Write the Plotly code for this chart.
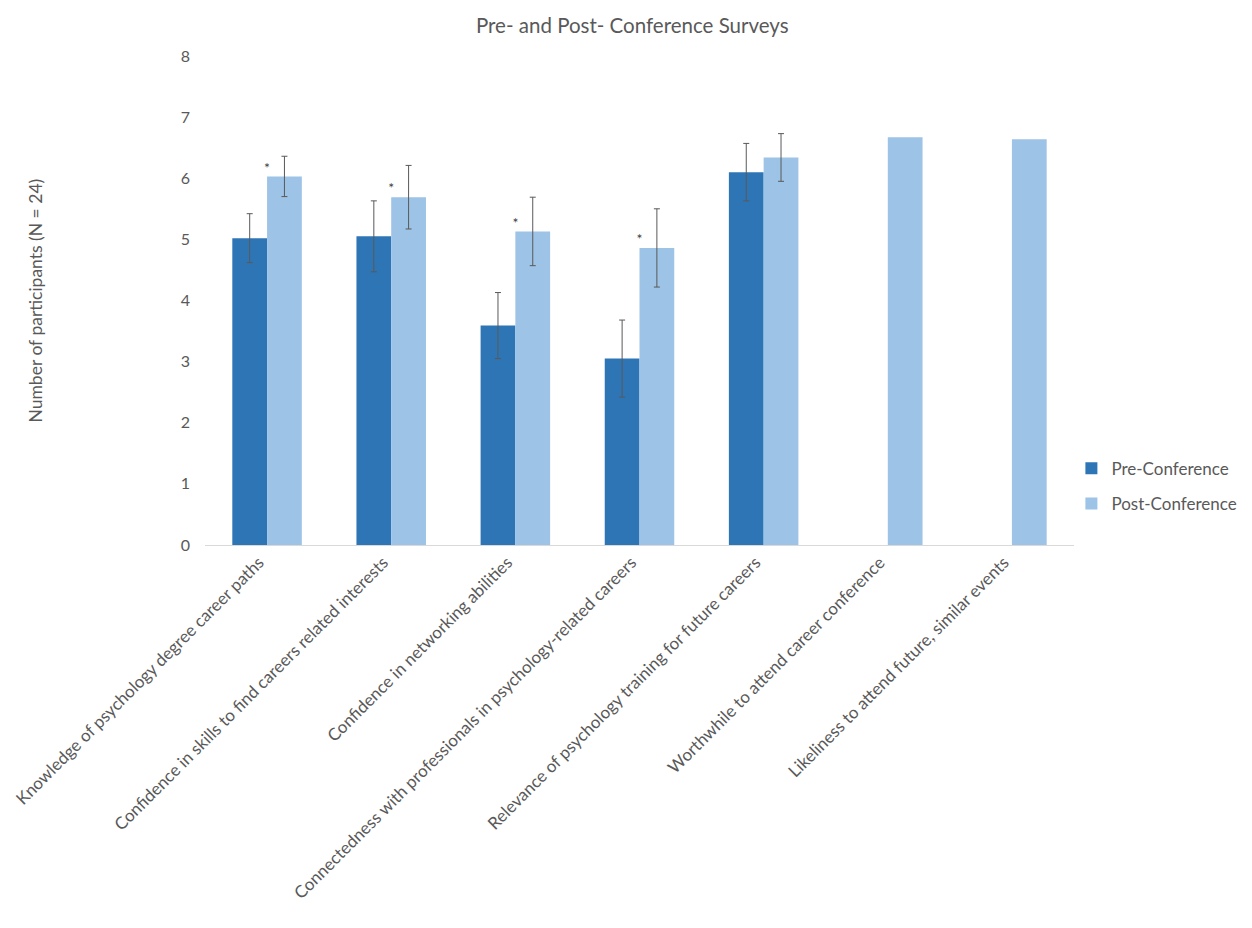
import plotly.graph_objects as go

categories = [
    "Knowledge of psychology degree career paths",
    "Confidence in skills to find careers related interests",
    "Confidence in networking abilities",
    "Connectedness with professionals in psychology-related careers",
    "Relevance of psychology training for future careers",
    "Worthwhile to attend career conference",
    "Likeliness to attend future, similar events",
]
pre_values = [5.02, 5.05, 3.59, 3.05, 6.10, None, None]
pre_errors = [0.40, 0.58, 0.54, 0.63, 0.47, None, None]
post_values = [6.03, 5.69, 5.13, 4.86, 6.34, 6.67, 6.64]
post_errors = [0.33, 0.52, 0.56, 0.64, 0.39, None, None]
significant = [True, True, True, True, False, False, False]

FONT = "Lato, Open Sans, sans-serif"
PRE_COLOR = "#2E75B6"
POST_COLOR = "#9DC3E6"
ERR_COLOR = "#595959"
TEXT_COLOR = "#595959"


def split(values, errors):
    with_err = [(c, v, e) for c, v, e in zip(categories, values, errors)
                if v is not None and e is not None]
    without_err = [(c, v) for c, v, e in zip(categories, values, errors)
                   if v is not None and e is None]
    return with_err, without_err


fig = go.Figure()
for name, values, errors, color, grp in [
    ("Pre-Conference", pre_values, pre_errors, PRE_COLOR, "pre"),
    ("Post-Conference", post_values, post_errors, POST_COLOR, "post"),
]:
    with_err, without_err = split(values, errors)
    fig.add_trace(go.Bar(
        name=name, x=[w[0] for w in with_err], y=[w[1] for w in with_err],
        offsetgroup=grp, legendgroup=grp,
        marker=dict(color=color, line=dict(width=0)),
        error_y=dict(type="data", array=[w[2] for w in with_err], visible=True,
                     color=ERR_COLOR, thickness=1, width=3),
    ))
    if without_err:
        fig.add_trace(go.Bar(
            name=name, x=[w[0] for w in without_err], y=[w[1] for w in without_err],
            offsetgroup=grp, legendgroup=grp, showlegend=False,
            marker=dict(color=color, line=dict(width=0)),
        ))

star_x = [c for c, s in zip(categories, significant) if s]
star_y = [v + 0.12 for v, s in zip(post_values, significant) if s]
fig.add_trace(go.Scatter(
    x=star_x, y=star_y, mode="text", text=["*"] * len(star_x),
    textposition="middle center",
    textfont=dict(family=FONT, size=14, color="#404040"),
    showlegend=False, hoverinfo="skip",
))

fig.update_layout(
    width=1252, height=928,
    paper_bgcolor="white", plot_bgcolor="white",
    margin=dict(l=205, r=178, t=56, b=383, autoexpand=False),
    barmode="group", bargap=0.44, bargroupgap=0,
    title=dict(text="Pre- and Post- Conference Surveys", x=0.505, xanchor="center",
               y=0.972, yanchor="middle",
               font=dict(family=FONT, size=20.5, color=TEXT_COLOR)),
    font=dict(family=FONT, color=TEXT_COLOR),
    legend=dict(x=0.997, xanchor="left", y=0.12, yanchor="middle",
                font=dict(family=FONT, size=17, color=TEXT_COLOR),
                itemwidth=30, tracegroupgap=10, bgcolor="rgba(0,0,0,0)"),
    showlegend=True,
    xaxis=dict(categoryorder="array", categoryarray=categories),
)
fig.update_xaxes(
    type="category", tickangle=-45,
    tickfont=dict(family=FONT, size=17, color=TEXT_COLOR),
    showline=True, linecolor="#D9D9D9", linewidth=1,
    showgrid=False, ticks="", ticklen=0, ticklabelshift=-8,
)
fig.update_yaxes(
    range=[0, 8], dtick=1, tickformat="d",
    tickfont=dict(family=FONT, size=16, color=TEXT_COLOR),
    showline=False, showgrid=False, zeroline=False, ticks="",
    ticklabelstandoff=14,
)
fig.add_annotation(
    text="Number of participants (N = 24)", textangle=-90,
    xref="paper", yref="paper", x=(35 - 205) / 869, y=0.5,
    xanchor="center", yanchor="middle", showarrow=False,
    font=dict(family=FONT, size=17.5, color=TEXT_COLOR),
)

fig.write_html("out.html")
